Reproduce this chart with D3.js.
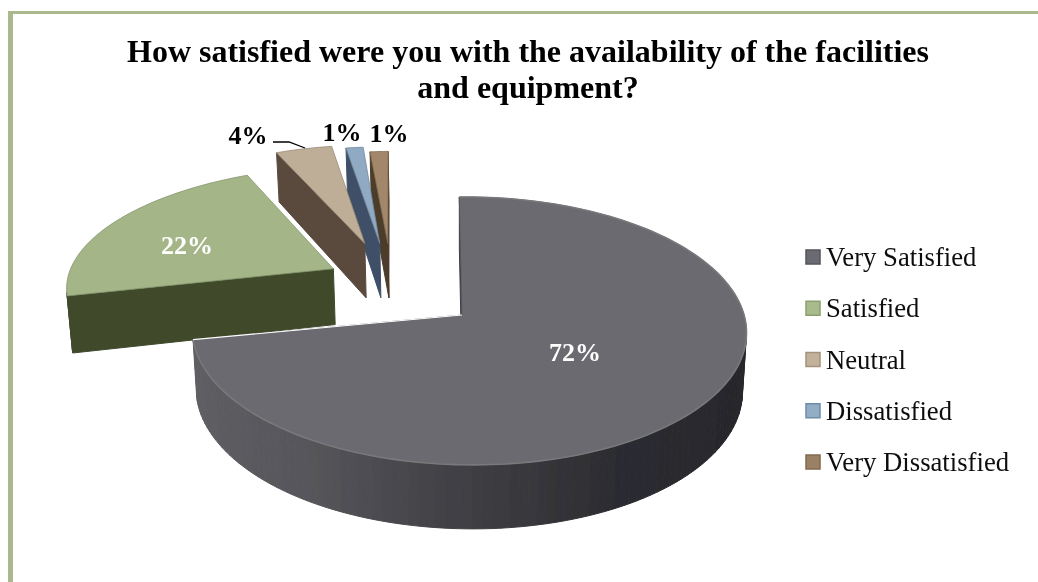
<!DOCTYPE html>
<html><head><meta charset="utf-8">
<script src="https://cdn.jsdelivr.net/npm/d3@7"></script>
<style>html,body{margin:0;padding:0;background:#fff}svg{display:block}text{font-family:"Liberation Serif",serif}</style>
</head><body><svg id="c" width="1038" height="582"></svg>
<script>
const categories=["Very Satisfied","Satisfied","Neutral","Dissatisfied","Very Dissatisfied"];
const values=[72,22,4,1,1];
const titleLines=["How satisfied were you with the availability of the facilities","and equipment?"];
const topColors=["#6b6b70","#a4b687","#bfae97","#8faac2","#a3876a"];
const sideColors=["#47474b","#3f4a2c","#5a4a3e","#3f5068","#4c3c2c"];
const swatchBorders=["#55555a","#8d9f70","#a3927c","#6f8ca6","#826a50"];
const swatchFills=["#6b6b73","#a9bb8a","#c2b29c","#92adc4","#9a8163"];
// exploded-slice displacement and per-slice shape tweaks on the pie plane
const offsetU=[0,-0.49,-0.375,-0.316,-0.284];
const offsetV=[0,-0.37,-0.585,-0.585,-0.585];
const scaleU=[1,1.048,1,1.2,1.24];
const scaleV=[1,0.95,0.95,0.93,0.88];
const skewU=[0,0.026,0.05,0.02,0.018];
const skewV=[0,-0.04,0,0,0];

const svg=d3.select("#c");
const root=svg.append("g").attr("filter","url(#soft)");
svg.append("defs").append("filter").attr("id","soft")
  .attr("filterUnits","userSpaceOnUse").attr("x",0).attr("y",0).attr("width",1038).attr("height",582)
  .append("feGaussianBlur").attr("stdDeviation",0.45);
const frame="#a9b98b";
root.append("rect").attr("x",8).attr("y",11).attr("width",1030).attr("height",3).attr("fill",frame);
root.append("rect").attr("x",8).attr("y",11).attr("width",5).attr("height",571).attr("fill",frame);

root.append("g").selectAll("text").data(titleLines).join("text")
 .attr("x",528).attr("y",(d,i)=>62+i*36).attr("text-anchor","middle")
 .attr("font-size",32).attr("font-weight","bold").attr("fill","#000").text(d=>d);

const CX=462,CY=315,RX=275,RY=132,P=0.119,Q=0.025,SH=3;
function proj(u,v,z){
  const w=1-P*v-Q*u, s=1-0.014*z;
  const X=(RX*u+SH*v)/w, Y=RY*v/w;
  return [CX+X*s, CY+Y+(58+6*v)*z];
}
const pie=d3.pie().sort(null).value(d=>d)(values);
const line=d3.line();
const sliceG=root.append("g");
const sideShade=d3.scaleLinear().domain([-1,-0.5,0,0.5,1]).range(["#5f5f64","#55555a","#3f3f44","#2c2c31","#27272b"]);

[4,3,2,1,0].forEach(i=>{
  const a=pie[i],n=Math.max(4,Math.ceil((a.endAngle-a.startAngle)/0.03));
  const ou=offsetU[i],ov=offsetV[i];
  const pts=[[ou,ov]];
  d3.range(n+1).forEach(k=>{
    const t=a.startAngle+(a.endAngle-a.startAngle)*k/n;
    const s=Math.sin(t),c=-Math.cos(t);
    pts.push([ou+scaleU[i]*s+skewU[i]*c, ov+scaleV[i]*c+skewV[i]*s]);
  });
  const quads=[];
  pts.forEach((p,k)=>{
    const q=pts[(k+1)%pts.length];
    const a1=proj(p[0],p[1],0),a2=proj(q[0],q[1],0),b2=proj(q[0],q[1],1),b1=proj(p[0],p[1],1);
    if(d3.polygonArea([a1,a2,b2,b1])<=0) return;
    quads.push({poly:[a1,a2,b2,b1],depth:(p[1]+q[1])/2,mu:(p[0]+q[0])/2-ou});
  });
  quads.sort((x,y)=>x.depth-y.depth);
  const fillOf=d=>i===0?sideShade(d.mu):sideColors[i];
  sliceG.append("g").selectAll("path").data(quads).join("path")
    .attr("d",d=>line(d.poly)+"Z").attr("fill",fillOf).attr("stroke",fillOf).attr("stroke-width",1);
  const topPts=pts.map(p=>proj(p[0],p[1],0));
  sliceG.append("path").attr("d",line(topPts)+"Z")
    .attr("fill",topColors[i]).attr("stroke",i===0?"#5a5a5e":d3.color(topColors[i]).darker(0.6)).attr("stroke-width",0.8);
  if(i===0){
    sliceG.append("path").attr("d",line(topPts.slice(1))).attr("fill","none").attr("stroke","#79797c").attr("stroke-width",1.6);
    sliceG.append("path").attr("d",line([topPts[topPts.length-1],topPts[0]])).attr("fill","none").attr("stroke","#fff").attr("stroke-width",1.2);
  }
});

root.append("path").attr("d","M273,142L289,142L305,148").attr("fill","none").attr("stroke","#000").attr("stroke-width",1.3);

const labelX=[575,187,248,342,389],labelY=[361,254,144,141,142],labelFill=["#fff","#fff","#000","#000","#000"];
root.append("g").selectAll("text").data(values).join("text")
 .attr("x",(d,i)=>labelX[i]).attr("y",(d,i)=>labelY[i]).attr("text-anchor","middle")
 .attr("font-size",26).attr("font-weight","bold").attr("fill",(d,i)=>labelFill[i]).text(d=>d+"%");

const legendY=d3.scalePoint().domain(categories).range([257,462]);
const leg=root.append("g").selectAll("g").data(categories).join("g")
 .attr("transform",d=>`translate(0,${legendY(d)})`);
leg.append("rect").attr("x",806).attr("y",-7).attr("width",14).attr("height",14)
 .attr("fill",(d,i)=>swatchFills[i]).attr("stroke",(d,i)=>swatchBorders[i]).attr("stroke-width",1.5);
leg.append("text").attr("x",826).attr("y",9).attr("font-size",26.7).attr("fill","#111").text(d=>d);
</script></body></html>
